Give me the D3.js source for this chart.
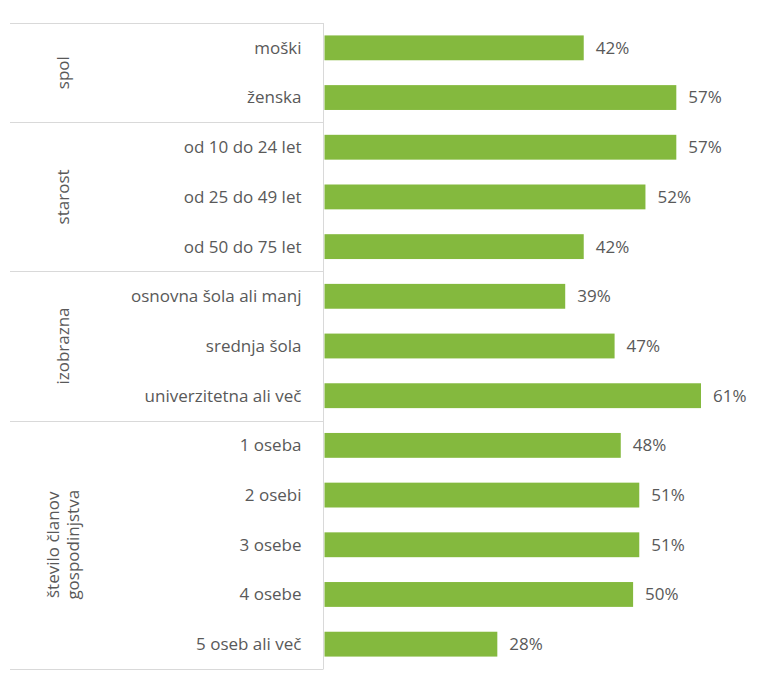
<!DOCTYPE html><html><head><meta charset="utf-8"><script src="https://d3js.org/d3.v7.min.js"></script>
<style>body{margin:0;background:#fff}text{font-family:"Open Sans",sans-serif;fill:#595959}</style></head><body><svg id="c" width="781" height="693"></svg>
<script>
const categories=["moški","ženska","od 10 do 24 let","od 25 do 49 let","od 50 do 75 let","osnovna šola ali manj","srednja šola","univerzitetna ali več","1 oseba","2 osebi","3 osebe","4 osebe","5 oseb ali več"];
const values=[42,57,57,52,42,39,47,61,48,51,51,50,28];
const groups=[{name:["spol"],start:0,n:2},{name:["starost"],start:2,n:3},{name:["izobrazna"],start:5,n:3},{name:["število članov","gospodinjstva"],start:8,n:5}];
const svg=d3.select("#c");
const yTop=23,yBot=669,ax=323.5;
const y=d3.scaleBand().domain(categories).range([yTop,yBot]).paddingInner(0.5).paddingOuter(0.25);
const x=d3.scaleLinear().domain([0,61]).range([ax+1,701]);
svg.selectAll("rect").data(values).join("rect").attr("x",x(0)).attr("y",(d,i)=>y(categories[i])).attr("width",d=>x(d)-x(0)).attr("height",y.bandwidth()).attr("fill","#84b93e");
svg.selectAll(".v").data(values).join("text").attr("x",d=>x(d)+12).attr("y",(d,i)=>y(categories[i])+y.bandwidth()/2).attr("dy","0.35em").attr("font-size",17).text(d=>d+"%");
svg.selectAll(".c").data(categories).join("text").attr("x",ax-22).attr("y",d=>y(d)+y.bandwidth()/2).attr("dy","0.35em").attr("text-anchor","end").attr("font-size",17).text(d=>d);
const step=(yBot-yTop)/categories.length;
const ln=(x1,y1,x2,y2)=>svg.append("line").attr("x1",x1).attr("y1",y1).attr("x2",x2).attr("y2",y2).attr("stroke","#d9d9d9").attr("stroke-width",1);
ln(ax,yTop,ax,yBot);
groups.forEach(g=>{const y0=yTop+g.start*step,y1=y0+g.n*step;ln(10,Math.round(y0)+0.5,ax,Math.round(y0)+0.5);
 const cy=(y0+y1)/2;const t=svg.append("text").attr("transform",`translate(63,${cy}) rotate(-90)`).attr("text-anchor","middle").attr("font-size",17);
 g.name.forEach((s,k)=>t.append("tspan").attr("x",0).attr("dy",k===0?(-(g.name.length-1)*0.6+0.35)+"em":"1.2em").text(s));});
ln(10,yBot+0.5,ax,yBot+0.5);
</script></body></html>
